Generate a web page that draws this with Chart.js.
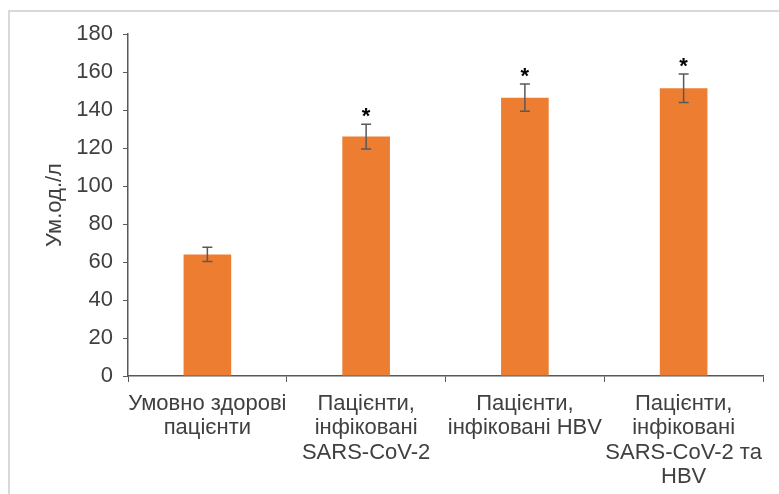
<!DOCTYPE html>
<html lang="uk">
<head>
  <meta charset="UTF-8" />
  <title>Ум.од./л</title>
  <script src="https://cdn.jsdelivr.net/npm/chart.js"></script>
  <style>
    body { margin: 0; background: #fff; }
    #chart { display: block; }
  </style>
</head>
<body>
  <canvas id="chart" width="779" height="494"></canvas>

  <script>
    // dati
    const categories = [
      ['Умовно здорові', 'пацієнти'],
      ['Пацієнти,', 'інфіковані', 'SARS-CoV-2'],
      ['Пацієнти,', 'інфіковані HBV'],
      ['Пацієнти,', 'інфіковані', 'SARS-CoV-2 та', 'HBV']
    ];
    const values = [64, 126, 146.5, 151.5];
    const errors = [3.7, 6.5, 7.2, 7.5];
    const marks  = ['', '*', '*', '*'];
    const yTicks = [0, 20, 40, 60, 80, 100, 120, 140, 160, 180];

    const grey = '#595959';
    const font = 'Liberation Sans, Arial, sans-serif';

    // cornice grigia + barre di errore + asterischi
    const extras = {
      id: 'extras',
      beforeDraw(chart) {
        const c = chart.ctx;
        c.save();
        c.strokeStyle = '#d9d9d9';
        c.lineWidth = 2;
        c.beginPath();
        c.moveTo(9, 494);
        c.lineTo(9, 11);
        c.lineTo(779, 11);
        c.stroke();
        c.restore();
      },
      afterDatasetsDraw(chart) {
        const c = chart.ctx;
        const x = chart.scales.x, y = chart.scales.y;
        c.save();
        c.strokeStyle = grey;
        c.lineWidth = 1.5;
        values.forEach((v, i) => {
          const cx = x.getPixelForValue(i);
          const top = y.getPixelForValue(v + errors[i]);
          const bot = y.getPixelForValue(v - errors[i]);
          c.beginPath();
          c.moveTo(cx, top); c.lineTo(cx, bot);
          c.moveTo(cx - 5, top); c.lineTo(cx + 5, top);
          c.moveTo(cx - 5, bot); c.lineTo(cx + 5, bot);
          c.stroke();
          if (marks[i]) {
            c.fillStyle = '#000';
            c.font = 'bold 22px ' + font;
            c.textAlign = 'center';
            c.textBaseline = 'middle';
            c.fillText(marks[i], cx, top - 7);
          }
        });
        c.restore();
      }
    };

    new Chart(document.getElementById('chart'), {
      type: 'bar',
      data: {
        labels: categories,
        datasets: [{
          data: values,
          backgroundColor: '#ED7D31',
          categoryPercentage: 1,
          barPercentage: 0.3
        }]
      },
      options: {
        responsive: false,
        animation: false,
        events: [],
        layout: { padding: { top: 34, right: 16, left: 0, bottom: 0 } },
        plugins: { legend: { display: false }, tooltip: { enabled: false } },
        scales: {
          x: {
            afterFit(s) { s.height = 118; },
            grid: {
              display: true, drawOnChartArea: false, drawTicks: true,
              tickLength: 6, color: grey, offset: true
            },
            border: { color: grey, width: 1.5 },
            ticks: {
              color: '#404040', padding: 10, maxRotation: 0, autoSkip: false,
              font: { family: font, size: 22, lineHeight: 1.1 }
            }
          },
          y: {
            min: 0, max: 180,
            afterFit(s) { s.width = 128; },
            afterBuildTicks(s) { s.ticks = yTicks.map(v => ({ value: v })); },
            grid: {
              display: true, drawOnChartArea: false, drawTicks: true,
              tickLength: 5, color: grey
            },
            border: { color: grey, width: 1.5 },
            ticks: {
              color: '#404040', padding: 10,
              font: { family: font, size: 22 }
            },
            title: {
              display: true, text: 'Ум.од./л', color: '#404040',
              padding: { top: 42, bottom: 0 },
              font: { family: font, size: 22 }
            }
          }
        }
      },
      plugins: [extras]
    });
  </script>
</body>
</html>
